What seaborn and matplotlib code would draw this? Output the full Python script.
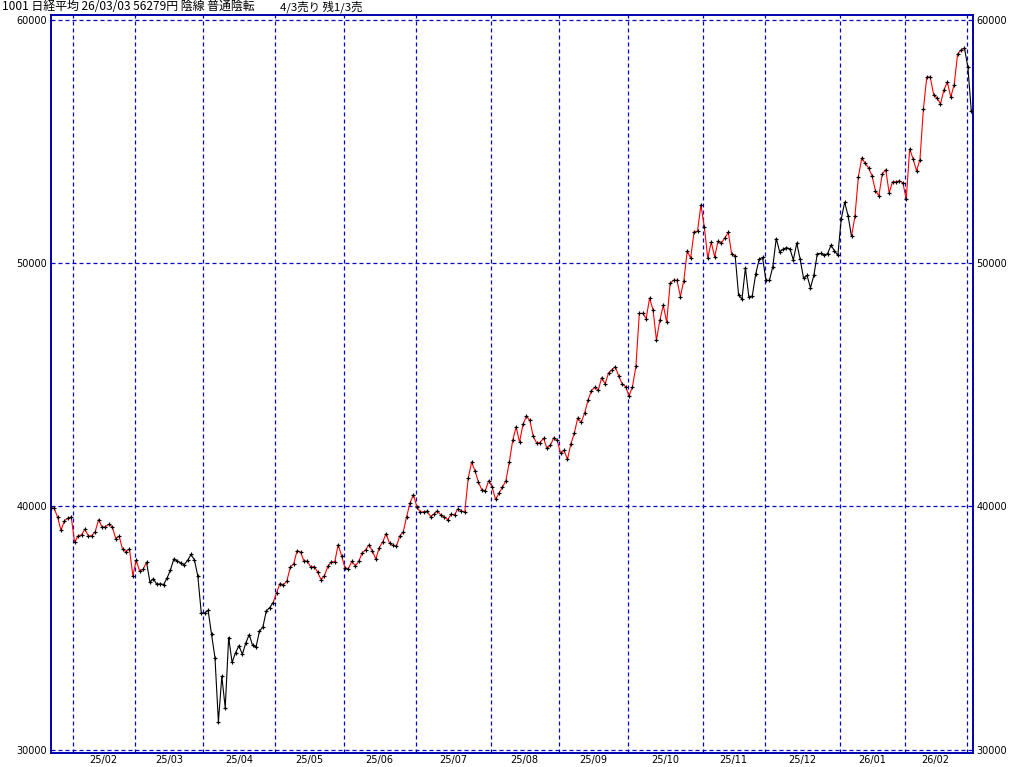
import numpy as np
import pandas as pd
import matplotlib
matplotlib.use("Agg")
import matplotlib.pyplot as plt
import seaborn as sns

# ---------------- data ----------------
title_left = "1001 日経平均 26/03/03 56279円 陰線 普通陰転"
title_right = "4/3売り 残1/3売"

month_labels = ["25/01", "25/02", "25/03", "25/04", "25/05", "25/06", "25/07",
                "25/08", "25/09", "25/10", "25/11", "25/12", "26/01", "26/02", "26/03"]

close_2501 = [39958, 39931, 39565, 39016, 39414, 39513, 39572]
close_2502 = [38520, 38798, 38831, 39066, 38787, 38801, 38963, 39461, 39149, 39174,
              39270, 39164, 38678, 38776, 38237, 38142, 38256, 37155]
close_2503 = [37785, 37331, 37418, 37704, 36887, 37028, 36793, 36819, 36790, 37053,
              37396, 37845, 37751, 37677, 37608, 37780, 38027, 37799, 37120, 35617]
close_2504 = [35624, 35725, 34736, 33781, 31136, 33012, 31714, 34609, 33585, 33982,
              34267, 33920, 34377, 34730, 34280, 34220, 34868, 35039, 35705, 35839, 36045]
close_2505 = [36452, 36830, 36780, 36928, 37503, 37644, 38183, 38128, 37755, 37753,
              37498, 37529, 37299, 36986, 37160, 37532, 37724, 37722, 38432, 37965]
close_2506 = [37470, 37446, 37747, 37554, 37741, 38089, 38211, 38421, 38173, 37834,
              38311, 38536, 38885, 38488, 38403, 38354, 38790, 38942, 39584, 40150, 40487]
close_2507 = [39986, 39762, 39785, 39810, 39587, 39688, 39821, 39646, 39569, 39459,
              39678, 39663, 39901, 39819, 39774, 41171, 41826, 41456, 40998, 40674, 40654, 41069]
close_2508 = [40799, 40290, 40549, 40794, 41059, 41820, 42718, 43274, 42649, 43378,
              43714, 43546, 42888, 42610, 42633, 42807, 42394, 42520, 42828, 42718]
close_2509 = [42188, 42310, 41938, 42580, 43018, 43643, 43459, 43837, 44372, 44768,
              44902, 44790, 45303, 45045, 45493, 45630, 45754, 45354, 45043, 44932]
close_2510 = [44550, 44936, 45769, 47944, 47950, 47734, 48580, 48088, 46847, 47672,
              48277, 47582, 49185, 49316, 49307, 48641, 49299, 50512, 50219, 51307, 51325, 52411]
close_2511 = [51497, 50212, 50883, 50276, 50911, 50842, 51063, 51281, 50376, 50323,
              48702, 48537, 49823, 48625, 48659, 49559, 50167, 50253]
close_2512 = [49303, 49303, 49864, 51028, 50491, 50581, 50655, 50602, 50148, 50836,
              50168, 49383, 49512, 49001, 49507, 50402, 50412, 50344, 50407, 50750, 50526, 50339]
close_2601 = [51832, 52518, 51961, 51117, 51940, 53560, 54341, 54120, 53936, 53600,
              52990, 52795, 53690, 53865, 52905, 53360, 53360, 53400, 53318]
close_2602 = [52655, 54720, 54300, 53815, 54275, 56345, 57675, 57675, 56945, 56810,
              56565, 57140, 57470, 56850, 57360, 58620, 58785, 58865]
close_2603 = [58085, 56279]

monthly_closes = [close_2501, close_2502, close_2503, close_2504, close_2505, close_2506,
                  close_2507, close_2508, close_2509, close_2510, close_2511, close_2512,
                  close_2601, close_2602, close_2603]

# trend state runs (state, number of trading days)
trend_runs = [("up", 29), ("down", 37), ("up", 135), ("down", 34), ("up", 33), ("down", 2)]

y_ticks = [30000, 40000, 50000, 60000]

# ---------------- build frames ----------------
closes = [v for m in monthly_closes for v in m]
month_of = [k for k, m in enumerate(monthly_closes) for _ in m]
state = [s for s, n in trend_runs for _ in range(n)]
df = pd.DataFrame({"idx": np.arange(len(closes)), "close": closes,
                   "month": month_of, "state": state})

# each run is drawn from the previous point so segments stay connected
rows = []
start = 0
for run_id, (s, n) in enumerate(trend_runs):
    lo = max(start - 1, 0)
    part = df.iloc[lo:start + n].copy()
    part["run"] = run_id
    part["state"] = s
    rows.append(part)
    start += n
line_df = pd.concat(rows, ignore_index=True)

month_start = df.groupby("month")["idx"].min()
month_mid = df.groupby("month")["idx"].mean()

# ---------------- plot ----------------
sns.set_theme(style="white")
plt.rcParams["font.family"] = ["DejaVu Sans"]

W, H = 1024, 767
fig = plt.figure(figsize=(W / 100, H / 100), dpi=100)
left_px, right_px, top_px, bottom_px = 50.5, 973, 15, 753
ax = fig.add_axes([left_px / W, 1 - bottom_px / H,
                   (right_px - left_px) / W, (bottom_px - top_px) / H])

blue = "#0000C8"

sns.lineplot(data=line_df, x="idx", y="close", hue="state", units="run",
             estimator=None, sort=False, palette={"up": "#FF0000", "down": "#000000"},
             linewidth=0.8, legend=False, ax=ax, zorder=3)
sns.scatterplot(data=df, x="idx", y="close", marker="+", color="black",
                s=10, linewidth=0.85, legend=False, ax=ax, zorder=4)

ax.set_xlim(-0.06, 269.5)
ax.set_ylim(29856, 60226)

# grid: horizontal price levels, vertical month boundaries
ax.set_yticks(y_ticks)
ax.set_yticklabels([str(v) for v in y_ticks])
ax.set_xticks([month_start[k] - 0.38 for k in range(1, len(month_labels))])
ax.set_xticklabels([])
ax.set_xticks([month_mid[k] for k in range(1, len(month_labels) - 1)], minor=True)
ax.set_xticklabels(month_labels[1:-1], minor=True)
ax.grid(True, which="major", axis="both", color=blue, linestyle=(0, (3.2, 2.4)),
        linewidth=0.9)
ax.tick_params(axis="both", which="both", length=0, labelsize=7, colors="black")
ax.tick_params(axis="x", which="minor", pad=1.5)
ax.tick_params(axis="y", labelright=True, labelleft=True, pad=2.5)
ax.set_xlabel("")
ax.set_ylabel("")

for sp in ax.spines.values():
    sp.set_visible(True)
    sp.set_color("#0000B0")
    sp.set_linewidth(1.4)

title_family = ["Noto Sans CJK JP", "DejaVu Sans"]
fig.text(2 / W, 1 - 6.5 / H, title_left, ha="left", va="center", fontsize=8.6,
         family=title_family, color="black")
fig.text(280 / W, 1 - 6.5 / H, title_right, ha="left", va="center", fontsize=8.2,
         family=title_family, color="black")

fig.savefig("out.png", dpi=100, facecolor="white")
